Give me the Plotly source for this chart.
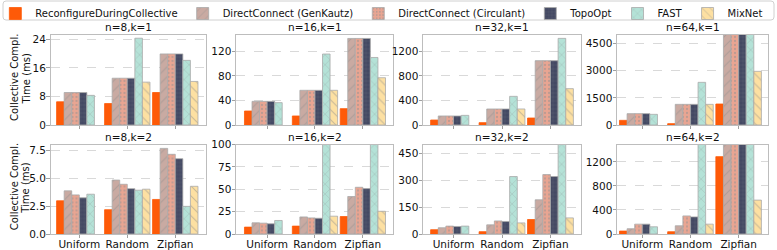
import plotly.graph_objects as go

categories = ["Uniform", "Random", "Zipfian"]
series_names = ["ReconfigureDuringCollective", "DirectConnect (GenKautz)",
                "DirectConnect (Circulant)", "TopoOpt", "FAST", "MixNet"]
panel_titles = ["n=8,k=1", "n=16,k=1", "n=32,k=1", "n=64,k=1",
                "n=8,k=2", "n=16,k=2", "n=32,k=2", "n=64,k=2"]

# values: one list per series, [Uniform, Random, Zipfian]
n8_k1 = [[6.5, 6.0, 9.1], [9.1, 13.1, 19.9], [9.1, 13.1, 19.9],
         [9.1, 13.1, 19.9], [8.3, 24.3, 18.1], [None, 12.0, 12.2]]
n16_k1 = [[22.8, 14.7, 26.6], [38.5, 56.5, 141], [38.5, 56.5, 141],
          [38.5, 56.5, 141], [36.4, 115.6, 110], [None, 56.5, 77]]
n32_k1 = [[81, 38, 114], [147, 261, 1048], [147, 261, 1048],
          [147, 261, 1048], [157, 467, 1411], [None, 261, 592]]
n64_k1 = [[258, 74, 1162], [627, 1143, 5600], [627, 1143, 5600],
          [627, 1143, 5600], [590, 2361, 5300], [None, 1143, 2969]]
n8_k2 = [[2.98, 2.18, 3.10], [3.87, 4.84, 7.68], [3.51, 4.46, 7.15],
         [3.25, 4.07, 6.76], [3.57, 3.93, 2.48], [None, 4.02, 4.28]]
n16_k2 = [[7.7, 8.8, 19.5], [12.5, 19.1, 41.9], [12.1, 18.0, 52.2],
          [11.4, 17.6, 50.7], [15.1, 160, 150], [None, 19.9, 25.4]]
n32_k2 = [[24, 13, 81], [35, 51, 191], [44, 73, 332],
          [42, 70, 321], [44, 321, 520], [None, 62, 90]]
n64_k2 = [[49, 38, 1288], [88, 137, 1700], [164, 301, 1750],
          [164, 285, 1720], [120, 1650, 1900], [None, 164, 564]]

panels = [n8_k1, n16_k1, n32_k1, n64_k1, n8_k2, n16_k2, n32_k2, n64_k2]

y_tops = [25.2, 146.6, 1466, 4980, 8.03, 100, 500, 1490]
y_ticks = [[0, 8, 16, 24], [0, 40, 80, 120], [0, 400, 800, 1200], [0, 1500, 3000, 4500],
           [0, 2.5, 5, 7.5], [0, 25, 50, 75, 100], [0, 150, 300, 450], [0, 400, 800, 1200]]
y_ticktext = [[str(v) for v in t] for t in y_ticks]
y_ticktext[4] = ["0.0", "2.5", "5.0", "7.5"]

fills = ["#fe5a08", "#c9aaa2", "#e9a592", "#434963", "#b4e2d7", "#fde0a2"]
hatches = ["", "/", ".", "+", "x", "\\"]
hatch_sizes = [6, 7, 4, 4, 7, 7]
hatch_sol = [0.2, 0.15, 0.25, 0.12, 0.12, 0.15]
edge = "#a9a9a9"

W, H = 777, 250
col_px = [(50.5, 205.5), (236, 393), (423, 581), (617, 768)]
row_px = [(35, 125), (144.5, 234)]
x_ranges = [[-0.60, 2.63], [-0.65, 2.63], [-0.63, 2.63], [-0.525, 2.61]]

FONT = "DejaVu Sans"
fig = go.Figure()
annotations = []

for p in range(8):
    r, c = divmod(p, 4)
    ax = "" if p == 0 else str(p + 1)
    xa, ya = "x" + ax, "y" + ax
    for s in range(6):
        pat = dict(shape=hatches[s], fgcolor="#8f8f8f", size=hatch_sizes[s],
                   solidity=hatch_sol[s], fillmode="overlay") if hatches[s] else None
        fig.add_trace(go.Bar(
            x=[0, 1, 2], y=panels[p][s], name=series_names[s],
            legendgroup=series_names[s], showlegend=(p == 0),
            marker=dict(color=fills[s], line=dict(color=fills[s] if s == 0 else edge, width=0.8),
                        pattern=pat),
            xaxis=xa, yaxis=ya, hoverinfo="skip"))
    x0, x1 = col_px[c]
    yt, yb = row_px[r]
    fig.layout["xaxis" + ax] = dict(
        domain=[x0 / W, x1 / W], range=x_ranges[c], anchor=ya,
        tickvals=[0, 1, 2], ticktext=categories, showticklabels=(r == 1),
        ticks="outside", ticklen=3, tickwidth=0.8, tickcolor="#888888",
        ticklabelstandoff=-3,
        showline=True, linecolor="#bdbdbd", linewidth=1, mirror=True,
        showgrid=False, zeroline=False,
        tickfont=dict(family=FONT, size=10.5, color="#111111"))
    fig.layout["yaxis" + ax] = dict(
        domain=[(H - yb) / H, (H - yt) / H], range=[0, y_tops[p]], anchor=xa,
        tickvals=y_ticks[p], ticktext=y_ticktext[p],
        ticks="outside", ticklen=3.5, tickwidth=0.8, tickcolor="#888888",
        ticklabelstandoff=-2,
        showline=True, linecolor="#bdbdbd", linewidth=1, mirror=True,
        showgrid=True, gridcolor="#cfcfcf", griddash="dash", gridwidth=0.8,
        zeroline=False,
        tickfont=dict(family=FONT, size=10.5, color="#111111"))
    annotations.append(dict(
        text=panel_titles[p], xref="paper", yref="paper",
        x=(x0 + x1) / 2 / W, y=(H - yt) / H, xanchor="center", yanchor="bottom",
        yshift=0, showarrow=False, font=dict(family=FONT, size=10.5, color="#111111")))

for r in range(2):
    yt, yb = row_px[r]
    for txt, xc in (("Collective Compl.", 14), ("Time (ms)", 25.5)):
        annotations.append(dict(
            text=txt, xref="paper", yref="paper",
            x=xc / W, y=(H - (yt + yb) / 2 + 2) / H, xanchor="center", yanchor="middle",
            textangle=-90, showarrow=False,
            font=dict(family=FONT, size=10, color="#111111")))

# legend frame (rounded rectangle)
lx0, lx1, ly0, ly1, rad = 3, 774, 1, 20, 3
def px(x): return x / W
def py(y): return (H - y) / H
path = (f"M {px(lx0+rad)},{py(ly0)} L {px(lx1-rad)},{py(ly0)} Q {px(lx1)},{py(ly0)} {px(lx1)},{py(ly0+rad)} "
        f"L {px(lx1)},{py(ly1-rad)} Q {px(lx1)},{py(ly1)} {px(lx1-rad)},{py(ly1)} "
        f"L {px(lx0+rad)},{py(ly1)} Q {px(lx0)},{py(ly1)} {px(lx0)},{py(ly1-rad)} "
        f"L {px(lx0)},{py(ly0+rad)} Q {px(lx0)},{py(ly0)} {px(lx0+rad)},{py(ly0)} Z")

fig.update_layout(
    width=W, height=H, margin=dict(l=0, r=0, t=0, b=0, autoexpand=False),
    paper_bgcolor="white", plot_bgcolor="white",
    barmode="group", bargap=0.054, bargroupgap=0,
    annotations=annotations,
    shapes=[dict(type="path", path=path, xref="paper", yref="paper",
                 line=dict(color="#d0d0d0", width=1))],
    legend=dict(orientation="h", x=-0.006, y=1.004, xanchor="left", yanchor="top",
                font=dict(family=FONT, size=10, color="#111111"),
                bgcolor="rgba(0,0,0,0)", borderwidth=0, itemwidth=30,
                traceorder="normal"),
    font=dict(family=FONT),
)

fig.write_html("out.html",
               config={"displayModeBar": False, "staticPlot": True},
               post_script="document.body.style.margin='0';document.body.style.overflow='hidden';")
